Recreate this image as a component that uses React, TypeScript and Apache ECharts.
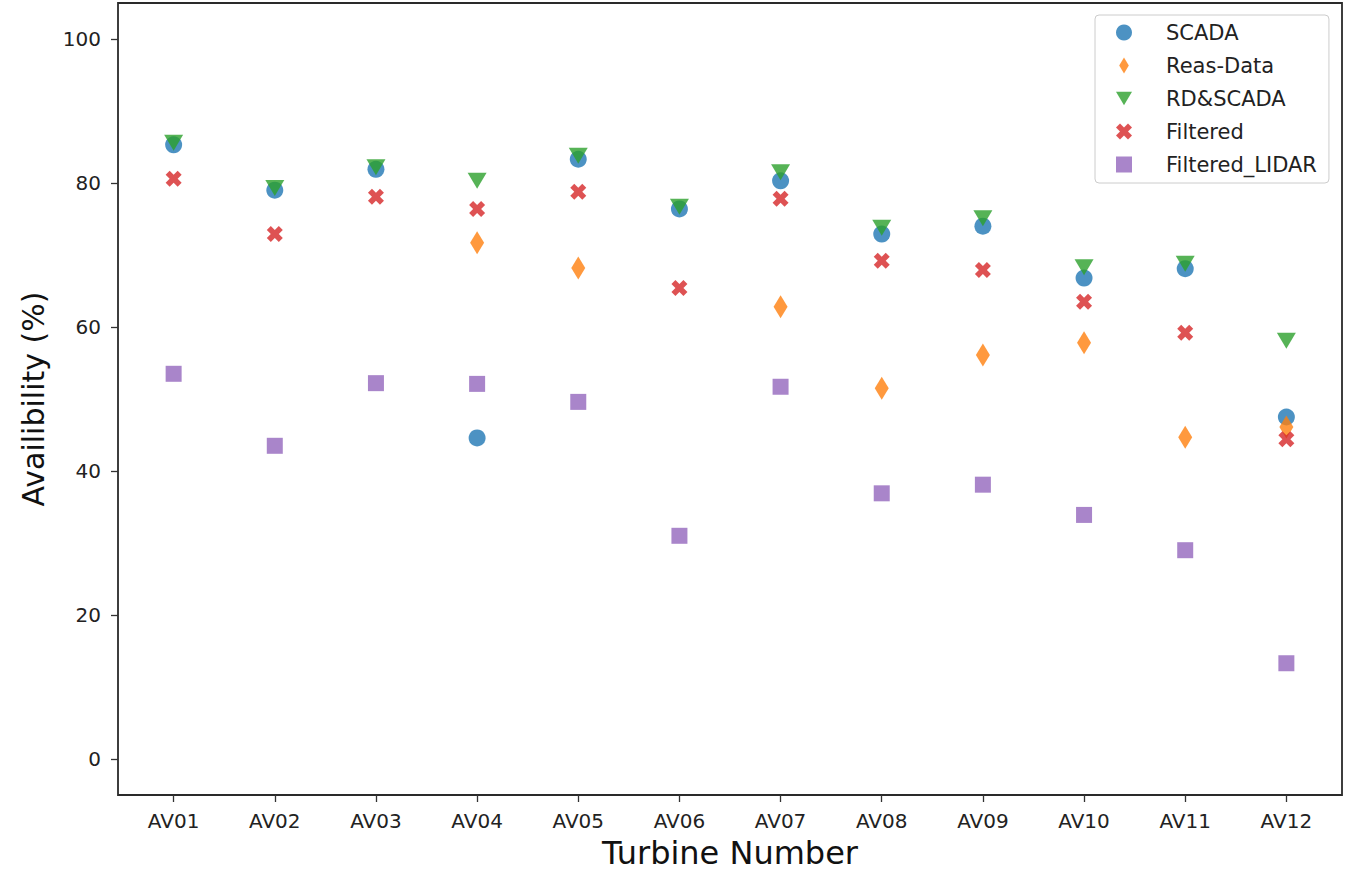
import React, { useEffect, useRef } from "react";
import * as echarts from "echarts";

const turbines = ["AV01", "AV02", "AV03", "AV04", "AV05", "AV06", "AV07", "AV08", "AV09", "AV10", "AV11", "AV12"];
const scada = [85.3, 79.0, 81.9, 44.6, 83.3, 76.4, 80.3, 72.9, 74.0, 66.8, 68.1, 47.5];
const reasData: (number | null)[] = [null, null, null, 71.7, 68.2, null, 62.8, 51.5, 56.1, 57.8, 44.7, 46.1];
const rdScada = [85.6, 79.3, 82.2, 80.3, 83.8, 76.7, 81.5, 73.8, 75.1, 68.3, 68.8, 58.1];
const filtered = [80.6, 72.9, 78.1, 76.4, 78.8, 65.4, 77.8, 69.2, 67.9, 63.5, 59.2, 44.4];
const filteredLidar = [53.5, 43.5, 52.2, 52.1, 49.6, 31.0, 51.7, 36.9, 38.1, 33.9, 29.0, 13.3];
const yTicks = [0, 20, 40, 60, 80, 100];

const toPairs = (arr: (number | null)[]) =>
  arr.map((v, i) => (v === null ? null : [i, v])).filter((p) => p !== null);

const FONT = "DejaVu Sans";

export default function App() {
  const ref = useRef<HTMLDivElement>(null);
  useEffect(() => {
    const chart = echarts.init(ref.current!, undefined, { renderer: "svg" });
    const xPath = "path://M3,0L4,1L3,2L4,3L3,4L2,3L1,4L0,3L1,2L0,1L1,0L2,1Z";
    const diamondPath = "path://M3,0L6,5L3,10L0,5Z";
    const triDownPath = "path://M0,0L20,0L10,17Z";
    chart.setOption({
      animation: false,
      backgroundColor: "#ffffff",
      grid: {
        left: 118,
        top: 3,
        right: 13,
        bottom: 76,
        outerBoundsMode: "none",
        containLabel: false,
        show: true,
        borderColor: "#2a2a2a",
        borderWidth: 1.8,
        backgroundColor: "transparent",
      },
      legend: {
        orient: "vertical",
        left: 1095,
        top: 15,
        padding: [7, 12, 8, 21],
        itemWidth: 16,
        itemHeight: 16,
        itemGap: 12,
        backgroundColor: "#ffffff",
        borderColor: "#cccccc",
        borderWidth: 1,
        borderRadius: 4,
        textStyle: { fontFamily: FONT, fontSize: 21, color: "#222222", padding: [0, 0, 0, 29] },
        data: ["SCADA", "Reas-Data", "RD&SCADA", "Filtered", "Filtered_LIDAR"],
      },
      xAxis: {
        type: "value",
        min: -0.55,
        max: 11.55,
        name: "Turbine Number",
        nameLocation: "middle",
        nameGap: 42,
        nameTextStyle: { fontFamily: FONT, fontSize: 32, color: "#111111" },
        splitLine: { show: false },
        axisLine: { show: false, onZero: false },
        axisTick: {
          show: true,
          customValues: turbines.map((_, i) => i),
          length: 7,
          lineStyle: { color: "#333333", width: 1.3 },
        },
        axisLabel: {
          customValues: turbines.map((_, i) => i),
          formatter: (v: number) => turbines[Math.round(v)] ?? "",
          fontFamily: FONT,
          fontSize: 20,
          color: "#222222",
          margin: 16,
        },
      },
      yAxis: {
        type: "value",
        min: -5,
        max: 105,
        name: "Availibility (%)",
        nameLocation: "middle",
        nameGap: 70,
        nameTextStyle: { fontFamily: FONT, fontSize: 30, color: "#111111" },
        splitLine: { show: false },
        axisLine: { show: false, onZero: false },
        axisTick: {
          show: true,
          customValues: yTicks,
          length: 7,
          lineStyle: { color: "#333333", width: 1.3 },
        },
        axisLabel: {
          customValues: yTicks,
          fontFamily: FONT,
          fontSize: 20,
          color: "#222222",
          margin: 17,
        },
      },
      series: [
        {
          name: "SCADA",
          type: "scatter",
          symbol: "circle",
          symbolSize: 17,
          itemStyle: { color: "#1f77b4", opacity: 0.8 },
          data: toPairs(scada),
        },
        {
          name: "Reas-Data",
          type: "scatter",
          symbol: diamondPath,
          symbolSize: [14, 23],
          itemStyle: { color: "#ff7f0e", opacity: 0.8 },
          data: toPairs(reasData),
        },
        {
          name: "RD&SCADA",
          type: "scatter",
          symbol: triDownPath,
          symbolSize: [19, 16],
          itemStyle: { color: "#2ca02c", opacity: 0.8 },
          data: toPairs(rdScada),
        },
        {
          name: "Filtered",
          type: "scatter",
          symbol: xPath,
          symbolSize: 16,
          itemStyle: { color: "#d62728", opacity: 0.8 },
          data: toPairs(filtered),
        },
        {
          name: "Filtered_LIDAR",
          type: "scatter",
          symbol: "rect",
          symbolSize: 16,
          itemStyle: { color: "#9467bd", opacity: 0.8 },
          data: toPairs(filteredLidar),
        },
      ],
    });
    return () => chart.dispose();
  }, []);
  return (
    <div
      ref={ref}
      style={{ position: "fixed", left: 0, top: 0, width: 1355, height: 871, background: "#fff" }}
    />
  );
}
